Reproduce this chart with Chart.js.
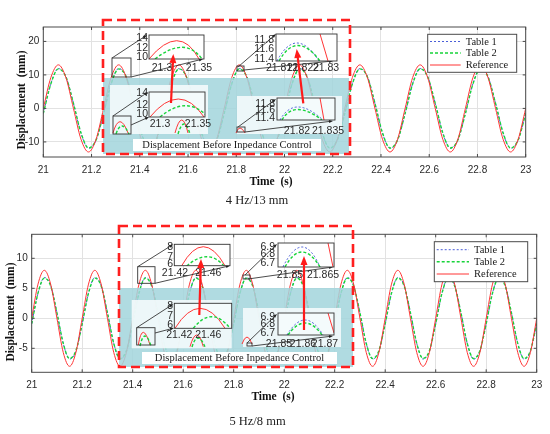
<!DOCTYPE html>
<html>
<head>
<meta charset="utf-8">
<script src="https://cdn.jsdelivr.net/npm/chart.js@4.4.1/dist/chart.umd.min.js"></script>
<style>
  body { margin: 0; background: #fff; }
  #wrap { position: relative; width: 550px; height: 434px; }
  .panel { position: absolute; left: 0; }
  canvas { display: block; }
</style>
</head>
<body>
<div id="wrap">
  <div class="panel" style="top:0"><canvas id="chart4" width="550" height="215"></canvas></div>
  <div class="panel" style="top:215px"><canvas id="chart5" width="550" height="219"></canvas></div>
</div>
<script>
// ---- data ----
const seriesNames = ["Table 1", "Table 2", "Reference"];
const xTicks = [21, 21.2, 21.4, 21.6, 21.8, 22, 22.2, 22.4, 22.6, 22.8, 23];
const yTicks4 = [-10, 0, 10, 20];
const yTicks5 = [-5, 0, 5, 10];

// 4 Hz / 13 mm
const time4 = [
  21, 21.03125, 21.0625, 21.09375, 21.125, 21.15625, 21.1875, 21.21875,
  21.25, 21.28125, 21.3125, 21.34375, 21.375, 21.40625, 21.4375, 21.46875,
  21.5, 21.53125, 21.5625, 21.59375, 21.625, 21.65625, 21.6875, 21.71875,
  21.75, 21.78125, 21.8125, 21.84375, 21.875, 21.90625, 21.9375, 21.96875,
  22, 22.03125, 22.0625, 22.09375, 22.125, 22.15625, 22.1875, 22.21875,
  22.25, 22.28125, 22.3125, 22.34375, 22.375, 22.40625, 22.4375, 22.46875,
  22.5, 22.53125, 22.5625, 22.59375, 22.625, 22.65625, 22.6875, 22.71875,
  22.75, 22.78125, 22.8125, 22.84375, 22.875, 22.90625, 22.9375, 22.96875,
  23
];
const table1_4 = [
  -1.5, 7.4, 11.9, 9.5, 1.5, -7.4, -11.9, -9.5,
  -1.5, 7.4, 11.9, 9.5, 1.5, -7.4, -11.9, -9.5,
  -1.5, 7.4, 11.9, 9.5, 1.5, -7.4, -11.9, -9.5,
  -1.5, 7.4, 11.9, 9.5, 1.5, -7.4, -11.9, -9.5,
  -1.5, 7.4, 11.9, 9.5, 1.5, -7.4, -11.9, -9.5,
  -1.5, 7.4, 11.9, 9.5, 1.5, -7.4, -11.9, -9.5,
  -1.5, 7.4, 11.9, 9.5, 1.5, -7.4, -11.9, -9.5,
  -1.5, 7.4, 11.9, 9.5, 1.5, -7.4, -11.9, -9.5,
  -1.5
];
const table2_4 = [
  -1.5, 7.3, 11.8, 9.4, 1.5, -7.3, -11.8, -9.4,
  -1.5, 7.3, 11.8, 9.4, 1.5, -7.3, -11.8, -9.4,
  -1.5, 7.3, 11.8, 9.4, 1.5, -7.3, -11.8, -9.4,
  -1.5, 7.3, 11.8, 9.4, 1.5, -7.3, -11.8, -9.4,
  -1.5, 7.3, 11.8, 9.4, 1.5, -7.3, -11.8, -9.4,
  -1.5, 7.3, 11.8, 9.4, 1.5, -7.3, -11.8, -9.4,
  -1.5, 7.3, 11.8, 9.4, 1.5, -7.3, -11.8, -9.4,
  -1.5, 7.3, 11.8, 9.4, 1.5, -7.3, -11.8, -9.4,
  -1.5
];
const ref4 = [
  0, 9.2, 13, 9.2, 0, -9.2, -13, -9.2,
  0, 9.2, 13, 9.2, 0, -9.2, -13, -9.2,
  0, 9.2, 13, 9.2, 0, -9.2, -13, -9.2,
  0, 9.2, 13, 9.2, 0, -9.2, -13, -9.2,
  0, 9.2, 13, 9.2, 0, -9.2, -13, -9.2,
  0, 9.2, 13, 9.2, 0, -9.2, -13, -9.2,
  0, 9.2, 13, 9.2, 0, -9.2, -13, -9.2,
  0, 9.2, 13, 9.2, 0, -9.2, -13, -9.2,
  0
];

// 5 Hz / 8 mm
const time5 = [
  21, 21.025, 21.05, 21.075, 21.1, 21.125, 21.15, 21.175,
  21.2, 21.225, 21.25, 21.275, 21.3, 21.325, 21.35, 21.375,
  21.4, 21.425, 21.45, 21.475, 21.5, 21.525, 21.55, 21.575,
  21.6, 21.625, 21.65, 21.675, 21.7, 21.725, 21.75, 21.775,
  21.8, 21.825, 21.85, 21.875, 21.9, 21.925, 21.95, 21.975,
  22, 22.025, 22.05, 22.075, 22.1, 22.125, 22.15, 22.175,
  22.2, 22.225, 22.25, 22.275, 22.3, 22.325, 22.35, 22.375,
  22.4, 22.425, 22.45, 22.475, 22.5, 22.525, 22.55, 22.575,
  22.6, 22.625, 22.65, 22.675, 22.7, 22.725, 22.75, 22.775,
  22.8, 22.825, 22.85, 22.875, 22.9, 22.925, 22.95, 22.975,
  23
];
const table1_5 = [
  -0.9, 4.2, 6.8, 5.5, 0.9, -4.2, -6.8, -5.5,
  -0.9, 4.2, 6.8, 5.5, 0.9, -4.2, -6.8, -5.5,
  -0.9, 4.2, 6.8, 5.5, 0.9, -4.2, -6.8, -5.5,
  -0.9, 4.2, 6.8, 5.5, 0.9, -4.2, -6.8, -5.5,
  -0.9, 4.2, 6.8, 5.5, 0.9, -4.2, -6.8, -5.5,
  -0.9, 4.2, 6.8, 5.5, 0.9, -4.2, -6.8, -5.5,
  -0.9, 4.2, 6.8, 5.5, 0.9, -4.2, -6.8, -5.5,
  -0.9, 4.2, 6.8, 5.5, 0.9, -4.2, -6.8, -5.5,
  -0.9, 4.2, 6.8, 5.5, 0.9, -4.2, -6.8, -5.5,
  -0.9, 4.2, 6.8, 5.5, 0.9, -4.2, -6.8, -5.5,
  -0.9
];
const table2_5 = [
  -0.9, 4.2, 6.7, 5.4, 0.9, -4.2, -6.7, -5.4,
  -0.9, 4.2, 6.7, 5.4, 0.9, -4.2, -6.7, -5.4,
  -0.9, 4.2, 6.7, 5.4, 0.9, -4.2, -6.7, -5.4,
  -0.9, 4.2, 6.7, 5.4, 0.9, -4.2, -6.7, -5.4,
  -0.9, 4.2, 6.7, 5.4, 0.9, -4.2, -6.7, -5.4,
  -0.9, 4.2, 6.7, 5.4, 0.9, -4.2, -6.7, -5.4,
  -0.9, 4.2, 6.7, 5.4, 0.9, -4.2, -6.7, -5.4,
  -0.9, 4.2, 6.7, 5.4, 0.9, -4.2, -6.7, -5.4,
  -0.9, 4.2, 6.7, 5.4, 0.9, -4.2, -6.7, -5.4,
  -0.9, 4.2, 6.7, 5.4, 0.9, -4.2, -6.7, -5.4,
  -0.9
];
const ref5 = [
  0, 5.7, 8, 5.7, 0, -5.7, -8, -5.7,
  0, 5.7, 8, 5.7, 0, -5.7, -8, -5.7,
  0, 5.7, 8, 5.7, 0, -5.7, -8, -5.7,
  0, 5.7, 8, 5.7, 0, -5.7, -8, -5.7,
  0, 5.7, 8, 5.7, 0, -5.7, -8, -5.7,
  0, 5.7, 8, 5.7, 0, -5.7, -8, -5.7,
  0, 5.7, 8, 5.7, 0, -5.7, -8, -5.7,
  0, 5.7, 8, 5.7, 0, -5.7, -8, -5.7,
  0, 5.7, 8, 5.7, 0, -5.7, -8, -5.7,
  0, 5.7, 8, 5.7, 0, -5.7, -8, -5.7,
  0
];

// ---- styles ----
const lineStyle = {
  b: { color: "#4a5ed8", dash: [2, 2], width: 1 },
  g: { color: "#17d43a", dash: [3, 2], width: 1.4 },
  r: { color: "#ff3535", dash: [], width: 1 }
};
const SANS = "'Liberation Sans', Arial, sans-serif";
const SERIF = "'Liberation Serif', 'Times New Roman', serif";

// ---- overlay pieces (page pixels) ----
const deco4 = {
  offsetY: 0,
  teal: [103, 78, 349, 154],
  note: [133, 139, 321, 151],
  dashBox: [103, 20, 350, 154],
  panels: [[110, 85, 208, 134], [237, 96, 342, 134]],
  insets: [
    { box: [149, 35, 204, 59], fill: "#fff", labX: 148,
      yLab: [["14", 37.7], ["12", 48], ["10", 57]],
      xLab: [["21.3", 162, 68], ["21.35", 199, 68]],
      src: [112, 58, 131, 77],
      lines: [[112, 58, 147, 35], [131, 77, 203, 59]],
      arcs: [["r", 149, 59, 176.7, 40.7, 199, 59], ["g", 155, 59, 181.7, 47.3, 202, 59]] },
    { box: [149, 92, 205, 117], fill: "#f4fbfc", labX: 148,
      yLab: [["14", 93.5], ["12", 105], ["10", 114.5]],
      xLab: [["21.3", 160, 124.5], ["21.35", 198, 124.5]],
      src: [113, 116, 131, 134],
      lines: [[113, 116, 148, 92], [131, 125, 149, 117]],
      arcs: [["r", 150, 117, 178.3, 99, 204, 117], ["g", 160, 117, 185, 105.7, 207, 116]] },
    { box: [276, 34, 337, 61], fill: "#fff", labX: 274,
      yLab: [["11.8", 40], ["11.6", 49.5], ["11.4", 59]],
      xLab: [["21.812", 282, 67.7], ["21.822", 303, 67.7], ["21.83", 326, 67.7]],
      src: [237, 66, 244, 71],
      lines: [[238, 67, 276, 34], [244, 70, 333, 61]],
      arcs: [["b", 277, 61, 297, 43, 319, 61], ["g", 279, 61, 298, 45.5, 320, 61], ["rl", 320, 34, 328, 61]] },
    { box: [277, 98, 335, 120], fill: "#f4fbfc", labX: 275,
      yLab: [["11.8", 104], ["11.6", 110.5], ["11.4", 118]],
      xLab: [["21.82", 297, 131], ["21.835", 328, 131]],
      src: [237, 127, 245, 132],
      lines: [[238, 127, 276, 99], [245, 132, 333, 121]],
      arcs: [["b", 280, 120, 298, 107, 323, 120], ["g", 282, 120, 298, 109.5, 322, 120], ["rl", 320, 98, 324, 120]] }
  ],
  bits: [["r", 113, 133, 120, 121.7, 128, 133], ["g", 116, 134, 122, 126, 129, 134],
         ["r", 175, 133, 181.7, 120, 188, 133], ["g", 178, 134, 184, 124, 190, 134],
         ["r", 236, 133, 240, 128, 245, 133]],
  redArrows: [[171, 103, 173.3, 54], [303.3, 103.3, 296.7, 49]],
  legend: { box: [427.7, 34.3, 516.7, 72.3], ys: [41.5, 53, 65], lx: [430, 460.7], tx: 465.7 },
  yTitle: [22, 100], xTitle: [271, 182],
  caption: ["4 Hz/13 mm", 257, 200.7]
};

const deco5 = {
  offsetY: 215,
  teal: [119, 288, 353, 367],
  note: [142, 352, 337, 364],
  dashBox: [119, 226, 353, 367],
  panels: [[131.7, 300, 231.7, 348.3], [243, 308, 341, 347]],
  insets: [
    { box: [174.3, 244.3, 230, 265.7], fill: "#fff", labX: 173,
      yLab: [["8", 246.7], ["7", 256.7], ["6", 264.3]],
      xLab: [["21.42", 175, 273.3], ["21.46", 208.3, 273.3]],
      src: [137.7, 266.7, 155, 283.3],
      lines: [[137.7, 266.7, 173.3, 244.3], [155, 283.3, 230, 265.7]],
      arcs: [["r", 181.7, 265.7, 203.3, 246.7, 225, 265.7], ["g", 186.7, 266, 206.7, 256.7, 224, 266]] },
    { box: [174.3, 303.3, 231.7, 328.3], fill: "#f4fbfc", labX: 173,
      yLab: [["8", 305.7], ["7", 315.7], ["6", 325]],
      xLab: [["21.42", 179.3, 335], ["21.46", 208.3, 335]],
      src: [136.7, 327.7, 155, 345],
      lines: [[136.7, 327.7, 173.3, 304], [155, 333, 174, 328]],
      arcs: [["r", 175, 328.3, 200, 308.3, 225, 328.3], ["g", 193.3, 328.3, 211.7, 316.7, 230, 328.3]] },
    { box: [278, 243, 334, 267], fill: "#fff", labX: 275,
      yLab: [["6.9", 247], ["6.8", 254.5], ["6.7", 263]],
      xLab: [["21.85", 290, 275], ["21.865", 323, 275]],
      src: [243, 275, 250, 279],
      lines: [[245, 275, 277, 244], [248, 279, 333, 267]],
      arcs: [["b", 283, 267, 302, 247, 320, 267], ["g", 285, 267, 302, 252, 320, 267], ["rl", 328, 243, 333, 267]] },
    { box: [278, 313, 334, 335], fill: "#f4fbfc", labX: 275,
      yLab: [["6.9", 317], ["6.8", 324.5], ["6.7", 333]],
      xLab: [["21.85", 279, 344], ["21.86", 303, 344], ["21.87", 325, 344]],
      src: [247, 343, 252, 346],
      lines: [[247, 343, 277, 314], [252, 346, 333, 336]],
      arcs: [["b", 287, 335, 305, 320, 323, 335], ["g", 288, 335, 305, 323, 322, 335], ["rl", 328, 313, 334, 333]] }
  ],
  bits: [["r", 138.3, 345, 143.3, 332.3, 150, 345], ["g", 140, 346, 145, 336, 151, 346],
         ["r", 190, 346.7, 196.7, 335, 203.3, 346.7], ["g", 192, 347, 198, 338, 205, 347],
         ["r", 242, 344, 247, 337, 252, 344]],
  redArrows: [[199.3, 315, 201, 259], [304, 330, 304, 256]],
  legend: { box: [434.3, 241.7, 527.7, 281.7], ys: [249.7, 261.7, 274], lx: [436.7, 469], tx: 474 },
  yTitle: [11, 312], xTitle: [273, 396.7],
  caption: ["5 Hz/8 mm", 257.5, 422]
};

// ---- drawing helpers ----
function setStyle(ctx, key) {
  const s = lineStyle[key];
  ctx.strokeStyle = s.color;
  ctx.lineWidth = s.width;
  ctx.setLineDash(s.dash);
}

function drawArc(ctx, a) {
  const key = a[0] === "rl" ? "r" : a[0];
  setStyle(ctx, key);
  ctx.beginPath();
  ctx.moveTo(a[1], a[2]);
  if (a[0] === "rl") {
    ctx.lineTo(a[3], a[4]);
  } else {
    const cx = 2 * a[3] - (a[1] + a[5]) / 2;
    const cy = 2 * a[4] - (a[2] + a[6]) / 2;
    ctx.quadraticCurveTo(cx, cy, a[5], a[6]);
  }
  ctx.stroke();
  ctx.setLineDash([]);
}

function arrow(ctx, x1, y1, x2, y2, color, width, headLen, headW) {
  const ang = Math.atan2(y2 - y1, x2 - x1);
  ctx.strokeStyle = color;
  ctx.fillStyle = color;
  ctx.lineWidth = width;
  ctx.setLineDash([]);
  ctx.beginPath();
  ctx.moveTo(x1, y1);
  ctx.lineTo(x2 - Math.cos(ang) * headLen * 0.8, y2 - Math.sin(ang) * headLen * 0.8);
  ctx.stroke();
  ctx.beginPath();
  ctx.moveTo(x2, y2);
  ctx.lineTo(x2 - Math.cos(ang) * headLen - Math.sin(ang) * headW / 2,
             y2 - Math.sin(ang) * headLen + Math.cos(ang) * headW / 2);
  ctx.lineTo(x2 - Math.cos(ang) * headLen + Math.sin(ang) * headW / 2,
             y2 - Math.sin(ang) * headLen - Math.cos(ang) * headW / 2);
  ctx.closePath();
  ctx.fill();
}

function drawInset(ctx, ins) {
  const b = ins.box;
  ins.lines.forEach(l => arrow(ctx, l[0], l[1], l[2], l[3], "#1e1e1e", 0.8, 4, 3));
  ctx.strokeStyle = "#333";
  ctx.lineWidth = 0.9;
  ctx.strokeRect(ins.src[0], ins.src[1], ins.src[2] - ins.src[0], ins.src[3] - ins.src[1]);
  ctx.fillStyle = ins.fill;
  ctx.fillRect(b[0], b[1], b[2] - b[0], b[3] - b[1]);
  ctx.save();
  ctx.beginPath();
  ctx.rect(b[0], b[1], b[2] - b[0], b[3] - b[1]);
  ctx.clip();
  ins.arcs.forEach(a => drawArc(ctx, a));
  ctx.restore();
  ctx.strokeStyle = "#333";
  ctx.lineWidth = 0.9;
  ctx.strokeRect(b[0], b[1], b[2] - b[0], b[3] - b[1]);
  ctx.fillStyle = "#2b2b2b";
  ctx.font = "10.5px " + SANS;
  ctx.textAlign = "right";
  ctx.textBaseline = "middle";
  ins.yLab.forEach(t => ctx.fillText(t[0], ins.labX, t[1]));
  ctx.textAlign = "center";
  ins.xLab.forEach(t => ctx.fillText(t[0], t[1], t[2]));
}

function makeDeco(d, yTicks) {
  return {
    id: "figureDeco",
    afterDraw(chart) {
      const ctx = chart.ctx;
      const a = chart.chartArea;
      ctx.save();
      // plot frame with MATLAB style inward ticks
      ctx.strokeStyle = "#4a4a4a";
      ctx.lineWidth = 1;
      ctx.setLineDash([]);
      ctx.strokeRect(a.left, a.top, a.right - a.left, a.bottom - a.top);
      ctx.beginPath();
      xTicks.forEach(v => {
        const px = chart.scales.x.getPixelForValue(v);
        ctx.moveTo(px, a.bottom); ctx.lineTo(px, a.bottom - 3);
        ctx.moveTo(px, a.top); ctx.lineTo(px, a.top + 3);
      });
      yTicks.forEach(v => {
        const py = chart.scales.y.getPixelForValue(v);
        ctx.moveTo(a.left, py); ctx.lineTo(a.left + 3, py);
        ctx.moveTo(a.right, py); ctx.lineTo(a.right - 3, py);
      });
      ctx.stroke();

      ctx.translate(0, -d.offsetY);

      // shaded "before" area
      const t = d.teal;
      ctx.fillStyle = "rgba(163, 213, 220, 0.86)";
      ctx.fillRect(t[0], t[1], t[2] - t[0], t[3] - t[1]);
      d.panels.forEach(p => {
        ctx.fillStyle = "rgba(246, 252, 253, 0.88)";
        ctx.fillRect(p[0], p[1], p[2] - p[0], p[3] - p[1]);
      });
      d.bits.forEach(bt => drawArc(ctx, bt));
      d.insets.forEach(ins => drawInset(ctx, ins));

      const n = d.note;
      ctx.fillStyle = "#fff";
      ctx.fillRect(n[0], n[1], n[2] - n[0], n[3] - n[1]);
      ctx.fillStyle = "#1a1a1a";
      ctx.font = "10.5px " + SERIF;
      ctx.textAlign = "center";
      ctx.textBaseline = "middle";
      ctx.fillText("Displacement Before Inpedance Control", (n[0] + n[2]) / 2, (n[1] + n[3]) / 2 + 0.5);

      d.redArrows.forEach(r => arrow(ctx, r[0], r[1], r[2], r[3], "#ff1a1a", 2.2, 9, 7));

      const db = d.dashBox;
      ctx.strokeStyle = "#ff1f1f";
      ctx.lineWidth = 2.6;
      ctx.setLineDash([9, 5]);
      ctx.strokeRect(db[0], db[1], db[2] - db[0], db[3] - db[1]);
      ctx.setLineDash([]);

      // legend
      const lg = d.legend;
      ctx.fillStyle = "#fff";
      ctx.fillRect(lg.box[0], lg.box[1], lg.box[2] - lg.box[0], lg.box[3] - lg.box[1]);
      ctx.strokeStyle = "#4a4a4a";
      ctx.lineWidth = 1;
      ctx.strokeRect(lg.box[0], lg.box[1], lg.box[2] - lg.box[0], lg.box[3] - lg.box[1]);
      ["b", "g", "r"].forEach((k, i) => {
        setStyle(ctx, k);
        ctx.beginPath();
        ctx.moveTo(lg.lx[0], lg.ys[i]);
        ctx.lineTo(lg.lx[1], lg.ys[i]);
        ctx.stroke();
        ctx.setLineDash([]);
        ctx.fillStyle = "#1a1a1a";
        ctx.font = "10.5px " + SERIF;
        ctx.textAlign = "left";
        ctx.textBaseline = "middle";
        ctx.fillText(seriesNames[i], lg.tx, lg.ys[i] + 0.5);
      });

      // axis titles and caption
      ctx.fillStyle = "#111";
      ctx.font = "bold 11.5px " + SERIF;
      ctx.textAlign = "center";
      ctx.textBaseline = "middle";
      ctx.fillText("Time  (s)", d.xTitle[0], d.xTitle[1]);
      ctx.save();
      ctx.translate(d.yTitle[0], d.yTitle[1]);
      ctx.rotate(-Math.PI / 2);
      ctx.fillText("Displacement  (mm)", 0, 0);
      ctx.restore();
      ctx.fillStyle = "#222";
      ctx.font = "12.5px " + SERIF;
      ctx.fillText(d.caption[0], d.caption[1], d.caption[2]);
      ctx.restore();
    }
  };
}

function buildChart(id, times, t1, t2, ref, yMin, yMax, yTicks, box, deco) {
  const pts = vals => times.map((t, i) => ({ x: t, y: vals[i] }));
  const ds = (label, vals, key, order) => ({
    label: label,
    data: pts(vals),
    borderColor: lineStyle[key].color,
    borderWidth: lineStyle[key].width,
    borderDash: lineStyle[key].dash,
    pointRadius: 0,
    fill: false,
    cubicInterpolationMode: "monotone",
    order: order
  });
  return new Chart(document.getElementById(id), {
    type: "line",
    data: {
      datasets: [
        ds(seriesNames[0], t1, "b", 3),
        ds(seriesNames[1], t2, "g", 2),
        ds(seriesNames[2], ref, "r", 1)
      ]
    },
    options: {
      responsive: false,
      animation: false,
      devicePixelRatio: 1,
      layout: { padding: { top: box.top, right: box.right, left: 0, bottom: 0 } },
      plugins: { legend: { display: false }, tooltip: { enabled: false } },
      scales: {
        x: {
          type: "linear", min: 21, max: 23,
          afterBuildTicks: s => { s.ticks = xTicks.map(v => ({ value: v })); },
          afterFit: s => { s.height = box.xh; },
          grid: { color: "#e2e2e2", drawTicks: false },
          border: { display: false },
          ticks: {
            autoSkip: false, maxRotation: 0, padding: 7,
            color: "#2a2a2a", font: { family: SANS, size: 10 },
            callback: v => String(v)
          }
        },
        y: {
          type: "linear", min: yMin, max: yMax,
          afterBuildTicks: s => { s.ticks = yTicks.map(v => ({ value: v })); },
          afterFit: s => { s.width = box.yw; },
          grid: { color: "#e2e2e2", drawTicks: false },
          border: { display: false },
          ticks: { padding: 4, color: "#2a2a2a", font: { family: SANS, size: 10 } }
        }
      }
    },
    plugins: [makeDeco(deco, yTicks)]
  });
}

buildChart("chart4", time4, table1_4, table2_4, ref4, -14.5, 24.3, yTicks4,
  { top: 27, right: 24.3, yw: 43.3, xh: 58 }, deco4);
buildChart("chart5", time5, table1_5, table2_5, ref5, -9, 14, yTicks5,
  { top: 19.3, right: 13.3, yw: 31.7, xh: 61.7 }, deco5);
</script>
</body>
</html>
